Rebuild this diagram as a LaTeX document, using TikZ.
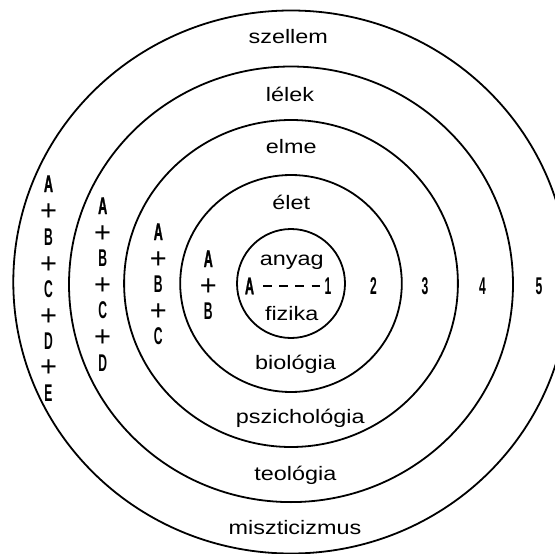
\documentclass[tikz,border=0pt]{standalone}
\usepackage{fontspec}
\setmainfont{Liberation Sans}
\newfontfamily\wordfont[FakeStretch=1.2]{Liberation Sans}
\newfontfamily\labfont[FakeStretch=0.5,BoldFont={Liberation Sans Bold}]{Liberation Sans}
\newfontfamily\afont[FakeStretch=0.52,FakeBold=1.0,BoldFont={Liberation Sans Bold}]{Liberation Sans}
\newfontfamily\plusfont{Liberation Sans}
\tikzset{
  ring/.style={line width=1.8pt},
  word/.style={font=\wordfont\fontsize{19.5}{20}\selectfont, anchor=base, inner sep=0pt},
  lab/.style={font=\labfont\bfseries\fontsize{24.2}{25}\selectfont, anchor=center, inner sep=0pt},
  laba/.style={font=\afont\bfseries\fontsize{24.2}{25}\selectfont, anchor=center, inner sep=0pt},
  pl/.style={font=\plusfont\fontsize{29}{30}\selectfont, anchor=base, inner sep=0pt},
  dashline/.style={line width=2.2pt, dash pattern=on 8.3pt off 7.8pt, shorten <=9pt, shorten >=4.6pt}
}
\begin{document}
\begin{tikzpicture}[x=1pt,y=-1pt]
\clip (0,0) rectangle (555,554);
\fill[white] (0,0) rectangle (555,554);
% rings
\draw[ring] (291,283.5) ellipse [x radius=54pt, y radius=54.5pt];
\draw[ring] (291,283.5) ellipse [x radius=110.8pt, y radius=108.5pt];
\draw[ring] (291,283.5) ellipse [x radius=166.9pt, y radius=163.5pt];
\draw[ring] (291,284.3) ellipse [x radius=222pt, y radius=217.8pt];
\draw[ring] (291,282) ellipse [x radius=277.7pt, y radius=271.5pt];
% words
\node[word] (szellem) at (288.3,43.3) {szellem};
\node[word] (lelek) at (290,101.7) {lélek};
\node[word] (elme) at (291.3,153.3) {elme};
\node[word] (elet) at (291.3,209.3) {élet};
\node[word] (anyag) at (291.7,265.7) {anyag};
\node[word] (fizika) at (291.7,320.7) {fizika};
\node[word] (biologia) at (295.5,369.3) {biológia};
\node[word] (pszich) at (300.3,423.3) {pszichológia};
\node[word] (teologia) at (295.3,480) {teológia};
\node[word] (miszt) at (295,534.3) {miszticizmus};
% inner line
\node[laba] (a0) at (249.5,286) {A};
\node[lab] (n1) at (328,286) {1};
\draw[dashline] (a0.east) -- (n1.west);
% numbers
\node[lab] (n2) at (373.5,286) {2};
\node[lab] (n3) at (425,286) {3};
\node[lab] (n4) at (482.5,286) {4};
\node[lab] (n5) at (539,286) {5};
% column 4
\node[laba] (c4a) at (208.3,258.8) {A};
\node[pl] (c4p1) at (208.3,285+10.1) {+};
\node[lab] (c4b) at (208.3,311.2) {B};
% column 3
\node[laba] (c3a) at (158.3,231.7) {A};
\node[pl] (c3p1) at (158.3,257.9+10.1) {+};
\node[lab] (c3b) at (158.3,284.1) {B};
\node[pl] (c3p2) at (158.3,310.3+10.1) {+};
\node[lab] (c3c) at (158.3,336.5) {C};
% column 2
\node[laba] (c2a) at (102.7,205.7) {A};
\node[pl] (c2p1) at (102.7,231.9+10.1) {+};
\node[lab] (c2b) at (102.7,258.1) {B};
\node[pl] (c2p2) at (102.7,284.3+10.1) {+};
\node[lab] (c2c) at (102.7,310.5) {C};
\node[pl] (c2p3) at (102.7,336.7+10.1) {+};
\node[lab] (c2d) at (102.7,362.9) {D};
% column 1
\node[laba] (c1a) at (48.5,183.7) {A};
\node[pl] (c1p1) at (48.5,210.3+10.1) {+};
\node[lab] (c1b) at (48.5,236.8) {B};
\node[pl] (c1p2) at (48.5,263.2+10.1) {+};
\node[lab] (c1c) at (48.5,289.5) {C};
\node[pl] (c1p3) at (48.5,315.8+10.1) {+};
\node[lab] (c1d) at (48.5,341.5) {D};
\node[pl] (c1p4) at (48.5,366.8+10.1) {+};
\node[lab] (c1e) at (48.5,393.2) {E};
\end{tikzpicture}
\end{document}
